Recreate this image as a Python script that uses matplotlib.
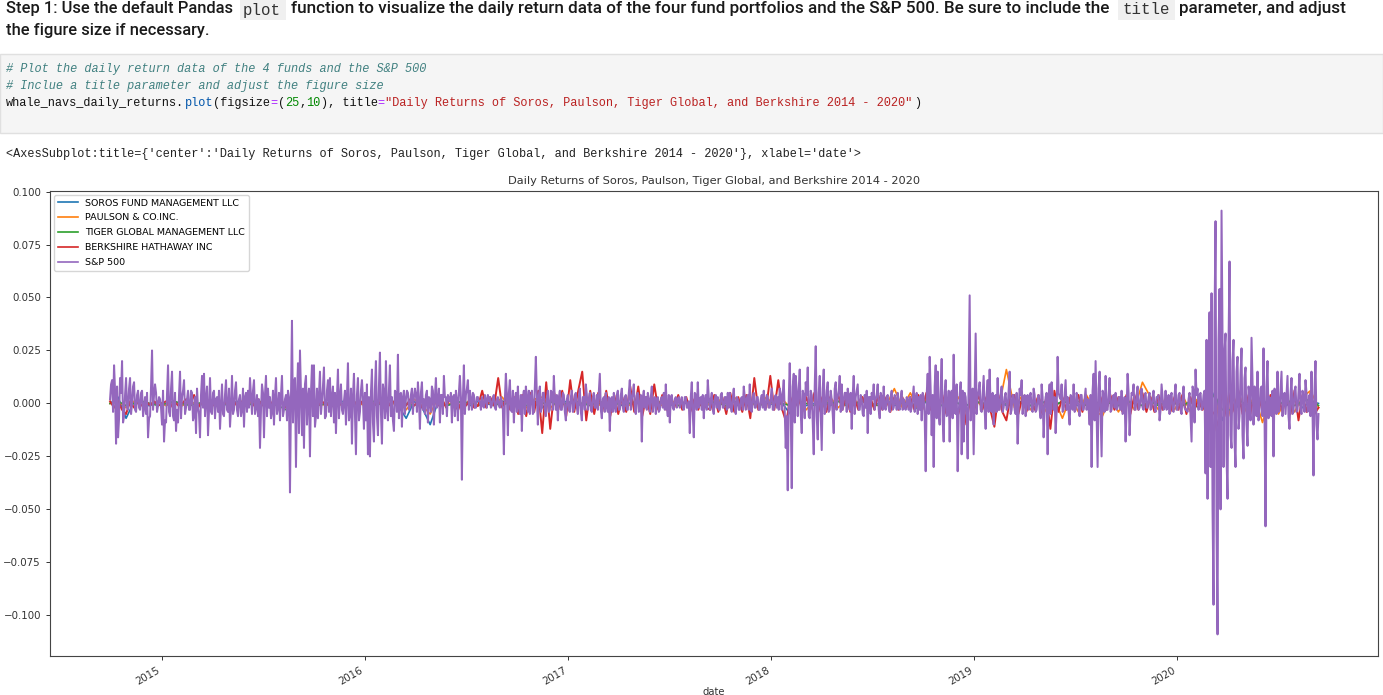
import matplotlib
matplotlib.use("Agg")
import matplotlib.pyplot as plt
import matplotlib.dates as mdates
from matplotlib.patches import Rectangle
import numpy as np
import pandas as pd

W, H = 1383, 695

# all returns in thousandths left to right
sp500 = [
    2, 11, 18, -19, -16, 12, 20, -6, 12, -3,
    12, 0, 10, -4, 6, -3, 6, -2, -5, -16,
    -6, 25, 4, 5, -1, 2, -10, -18, -9, 18,
    -6, 15, -8, -13, -9, 15, 3, 11, -2, 6,
    -3, 5, -6, -14, -2, -16, 13, 14, 2, -15,
    12, -5, 6, 2, -4, -12, 9, -6, 11, -4,
    -11, 13, -3, 10, -6, 4, -3, -11, 5, 6,
    12, -5, 11, -2, -6, -21, 9, -16, 13, 7,
    3, -4, -10, 12, -2, -8, 13, -3, 4, 6,
    -42, 39, 10, -30, 19, 25, -15, -21, 13, 3,
    -25, 18, 18, -6, -7, 15, 1, 17, -6, 11,
    12, 3, -9, -14, 16, 3, -3, 1, -10, 19,
    -5, -19, 14, -24, 12, -4, 11, -12, -8, -24,
    -25, 16, -18, 20, -15, 24, -19, 5, 20, -8,
    18, 3, -13, 5, 23, 4, -11, 6, 2, 5,
    -2, 7, 3, 4, 10, -12, 10, 2, 4, -9,
    2, 8, -10, 12, 1, -9, 4, 13, 3, 4,
    1, -9, 4, 6, -8, 13, -36, 18, 4, 11,
    6, -3, 4, -2, 3, 1, 3, -2, 2, 4,
    3, -1, 4, -3, 3, -2, 1, -24, 14, -15,
    11, -4, -9, 5, 8, -5, -13, 6, 8, -4,
    -5, 6, -4, 22, -10, 8, -2, 5, -6, 6,
    -3, 5, 13, -3, -8, 6, -3, 4, -8, 4,
    -4, 6, -3, 5, -5, 7, -8, 3, 9, -3,
    5, -4, 5, -2, -3, 14, -7, 3, 5, -4,
    -13, 3, 5, -4, 6, -3, 7, -4, 4, -3,
    11, 2, 9, -5, 5, -3, -18, 6, 3, 5,
    -4, 8, 2, -5, 3, -3, 3, 5, 9, -6,
    -9, 4, -3, 3, 2, -2, 3, -3, 3, -2,
    -14, 10, -16, 4, 10, 2, -3, -7, 4, 11,
    -3, 5, -5, 4, 3, -3, 5, -2, 3, 5,
    5, -4, 7, -5, 2, -3, 3, 8, -3, 4,
    9, -4, 5, -2, 3, -3, 4, 6, -3, 3,
    -2, 7, -3, 4, 3, 7, -3, 11, -21, -41,
    19, -40, 14, 13, -6, 16, -14, 4, 10, 17,
    -7, 4, -24, 27, -17, 13, -22, 16, -3, 10,
    -3, 2, -14, 10, 3, 13, 9, 1, 5, 7,
    -3, -12, 13, 3, 9, -3, 2, -6, -2, -14,
    3, 5, 9, 2, 9, -7, 3, 8, -3, 4,
    -4, 6, -2, 2, 5, -3, 6, 2, -3, 1,
    3, -2, 8, 2, -5, -3, -8, 3, -32, 14,
    22, -15, -30, 18, 15, -10, 21, -18, 11, -5,
    -18, 6, 23, -5, -32, 4, -24, -18, 3, -26,
    51, 5, -24, 33, 3, 10, -4, 13, -12, 11,
    16, -4, -10, 4, 12, -3, 8, -2, 5, -2,
    15, -3, 4, -5, -19, 7, 11, 2, -6, 4,
    3, -3, 7, -4, 2, -3, 9, -16, 3, -24,
    9, 10, -3, -14, 22, 3, 9, -3, 11, 3,
    -10, 3, 9, -3, 2, -6, 4, -3, 7, 2,
    -10, -30, 14, 20, -30, 15, -25, 4, 13, -3,
    12, -3, 4, 5, -2, 3, 6, -4, -18, 14,
    -15, 5, 9, -3, 8, -2, 7, -3, 5, -2,
    5, -2, 6, -4, 3, -8, 9, -3, 6, -2,
    -5, 5, -4, 9, -3, 5, -5, 8, -3, -4,
    5, -18, 6, 16, 7, 4, -3, 4, -33, -45,
    43, 52, -95, 86, -109, 54, 91, -30, 33, -45,
    67, -21, 30, -30, 22, -6, 26, -26, 17, -20,
    4, 31, -10, 6, 15, -3, 8, 26, -58, 20,
    3, -6, -25, 4, 15, -3, 15, 3, -5, 13,
    -12, 12, -4, 8, -3, 14, -5, 3, 11, -4,
    4, 15, -34, 20, -17,
]

# the smaller S&P strokes that sit between the ones above
sp500_between = [
    9, -4, 6, 8, -7, 5, -9, 4, -2, 7,
    -5, 8, -3, 4, -2, 5, -6, 3, 5, -7,
    8, -3, 9, -4, 3, -2, 6, -8, 5, -4,
    7, -6, 5, -3, 4, -7, 6, -5, 2, -3,
    6, -8, 3, 7, -5, 4, -2, -6, 8, -3,
    -4, 5, -7, 3, 6, -2, -5, 4, -3, 7,
    -2, -5, 6, -3, 2, -6, 7, 3, -4, -2,
    3, 6, -5, 4, 2, -3, 5, 4, -6, -2,
    -7, 6, 3, -5, 5, 4, -6, 2, -8, 3,
    2, -9, 12, 3, -14, 6, 7, 9, -10, 7,
    5, -6, -11, 7, 4, -5, 8, -7, 6, -4,
    -6, 8, 5, 3, -7, 9, -5, 6, 3, -8,
    7, 3, -6, 4, -8, 6, 2, 5, 9, 3,
    5, -9, 7, -6, 8, -4, 9, -7, -3, 6,
    -6, -8, 6, -4, -7, 5, 3, -5, 6, -3,
    4, -5, 7, -4, 2, 5, -3, -5, 6, 3,
    -4, 6, 3, -2, 7, 4, -5, 3, -6, 2,
    5, 3, -6, 2, 5, 3, 2, -5, 7, -3,
    2, 5, -2, 3, 1, -3, -1, 4, -2, 1,
    -2, 3, -2, 2, -1, 3, -3, 2, 4, 5,
    -3, 6, 2, -4, -2, 4, 3, -5, 3, 6,
    3, -5, 8, 3, 4, -4, 5, -3, 2, -4,
    6, -3, 2, 4, 3, -3, 5, -4, 2, -3,
    3, -4, 4, -2, 3, -4, 3, -3, 4, 2,
    -3, 3, -2, 4, 6, -3, 2, -4, -2, 3,
    2, -4, -2, 4, -3, 4, -2, 3, -3, 5,
    -3, 5, -3, 4, -4, 4, 3, -2, -3, 2,
    3, -4, 3, 2, -4, 2, -2, -3, -2, 4,
    3, -2, 2, -2, 3, 1, -2, 3, -2, 1,
    3, -5, 5, -3, -2, 3, 4, 2, -3, 3,
    2, -3, 2, -2, -3, 4, -2, 3, -3, -2,
    -2, 3, -2, 3, -3, 2, -3, 3, 2, -3,
    -3, 3, -2, 3, -3, 2, -2, -3, 4, -2,
    3, -3, 3, -2, -3, 4, 5, -4, -6, 2,
    -4, 8, -9, 5, 7, -5, 6, -7, 4, -6,
    6, -9, 8, -6, 5, -5, 7, -5, 6, -4,
    6, -5, 7, -3, 6, -4, -3, 5, -4, 3,
    5, 4, -5, 6, -3, 4, -5, 4, 6, 3,
    -5, 2, -3, 4, -3, 5, -3, -2, 3, -2,
    3, -3, 4, -3, -2, 3, -3, -2, 3, -3,
    -4, 3, -4, 5, 3, 4, 5, -6, 4, -5,
    6, 4, 8, -7, -5, 7, -8, 5, -6, 6,
    4, -7, -4, 9, -5, 10, 6, 5, -6, 12,
    -8, 7, 5, -5, 6, -3, 5, -3, 4, -4,
    -3, 5, 3, -4, -3, 4, -4, 3, -3, 6,
    -5, 4, -3, 5, -3, 4, -5, 4, 3, -3,
    5, -4, 4, -3, 4, -7, 3, -3, 5, 3,
    -5, 4, 3, -4, 5, 2, -4, 4, -3, -4,
    4, -3, -4, 5, -3, 4, -3, 2, -3, -2,
    4, 6, -8, -6, 7, -5, 6, -4, -3, 4,
    -4, 3, -2, -3, 3, -3, -5, 3, -3, 5,
    -3, 4, -3, 4, -3, 3, -2, 4, -2, 3,
    -3, 3, -2, 3, 4, -3, 3, -2, -3, 4,
    3, -3, 4, -3, 4, -3, 3, -2, -3, 2,
    -6, 8, -9, 4, -3, 5, -2, 6, 30, 22,
    -30, -50, 40, -60, 30, -50, 30, 25, -25, 28,
    -15, 20, -18, 15, -12, 14, -15, 12, -10, 8,
    -8, 10, 8, -6, -8, 7, -6, -5, 8, -7,
    -5, 6, 7, -5, -4, 6, -6, 5, 4, -6,
    4, -5, 6, -4, 5, -3, 6, -4, 5, -3,
    -6, -3, 6, -10, -5,
]

berkshire = [
    1, -2, 1, -3, -5, 1, -2, 1, -1, 1,
    -1, 1, -1, 0, 1, -2, 1, -1, 0, 2,
    -1, 4, -2, 1, -1, 2, -1, 2, -2, 1,
    -1, 1, -2, 1, -1, 2, -1, 2, -1, 1,
    -1, 2, -2, 1, -2, 1, -1, 1, -1, 2,
    -1, 1, -1, 1, -1, 1, -2, 1, -1, 1,
    -1, 1, -2, 1, -1, 2, -1, 1, -1, 2,
    -1, 1, -2, 1, -1, 2, -1, 1, -2, 1,
    -2, 2, -1, 2, -2, 3, -1, -3, 2, -1,
    2, -2, -1, 6, -2, 3, -1, 12, -2, 3,
    -3, 3, -5, 4, -6, 5, -4, 6, -14, 10,
    -12, 5, -3, 6, -6, 11, -4, 6, 15, -8,
    6, -5, 5, -4, 6, -6, 4, -5, 3, -4,
    8, -4, 8, -6, 3, -5, 9, -3, 4, -3,
    3, -2, 4, -3, 3, -4, 2, -3, 3, -2,
    -3, 4, -4, 3, -5, 5, -4, 3, -4, 4,
    -7, 12, -3, 2, -2, 13, -3, 11, -3, -9,
    3, -3, 4, -4, 3, -3, 5, -4, 3, -4,
    3, -3, 4, -3, 3, -4, 3, -3, 3, -2,
    3, -3, 4, -3, 3, -4, 3, -3, 3, -2,
    3, -3, 4, -3, 5, -3, 3, -4, 4, -5,
    3, -4, -5, 3, -10, 3, -3, 4, -3, 3,
    -3, -11, 4, -4, -8, 3, 4, -5, 3, -4,
    3, -3, 4, -5, 3, -12, 6, -4, 3, -3,
    3, -3, 4, -4, 3, -7, 4, -4, 3, -3,
    4, -3, 3, -4, 4, -5, 4, -3, 5, -4,
    3, -4, 4, -3, 3, -4, 3, -3, 4, -5,
    3, -3, 2, -3, 4, -3, -5, -11, 8, -6,
    5, -4, 6, -5, 4, -5, 6, -4, 5, -5,
    4, -5, 3, -4, 4, -5, 6, -8, 4, -4,
    5, -5, -2,
]

soros = [
    0, 3, -7, 1, -1, -1, 1, -1, 1, -1,
    1, -1, 0, 1, -1, 0, 1, -1, 1, 0,
    -1, 1, -1, 0, 1, -1, 1, 0, -1, 1,
    -1, 1, 0, -1, 1, 2, -1, -7, 1, -2,
    -10, 1, -1, 0, 1, -1, 1, 0, -1, 1,
    1, -1, 1, 0, -2, 1, -1, 1, 0, -1,
    1, 0, -1, 1, -1, 0, 1, -1, 1, 0,
    -1, 1, 0, -1, 1, -1, 1, 0, -2, 1,
    0, -1, 1, -1, 0, -5, 1, -1, 0, 1,
    -1, 1, 0, -1, 1, -1, 0, 1, -1, 0,
    1, -3, 1, 0, -1, 1, 0, -1, 1, 0,
    -1, 1, -1, 0, 1, -1, 0, 1, -1, 1,
    0, -1, 1, -1, 0, 1, -1, 1, 0, -1,
    1, 0, -1, 1, -1, 0, 2, -4, 5, -8,
    4, -2, 1, -1, 2, -2, 1, -1, 2, -2,
    1, 0,
]

paulson = [
    0, 1, -2, 1, -1, 0, 1, -1, 1, -1,
    1, -1, 1, 0, -1, 1, 0, 2, -1, 1,
    -1, 1, 0, 2, -1, 1, 0, -1, 1, -1,
    1, 0, -1, 1, 2, -1, 1, -3, 2, -1,
    -5, 3, -1, 1, -2, 2, -1, 1, -1, 3,
    -2, 1, -2, 2, 3, -2, 1, -1, 2, -1,
    2, -1, 1, -1, 2, -1, 3, -1, 1, -1,
    2, -1, 1, -1, 2, -1, 2, -2, 3, -1,
    1, -2, 3, -1, 2, -2, 1, -3, 2, -2,
    3, -2, 2, -1, 3, -2, 2, -1, 7, -2,
    5, -3, 2, -2, 3, -4, 3, -4, 3, -2,
    3, -3, 16, -2, 4, -3, 3, -4, 2, -7,
    3, -4, 4, -3, -6, 3, -4, 3, -3, 10,
    3, -3, 3, -3, 4, -4, 3, -5, -13, 13,
    -6, 5, -4, 4, -9, 3, -5, 3, -4, 3,
    6, -2,
]

tiger = [
    0, 1, -1, 0, 1, 0, -1, 0, 1, 0,
    -1, 0, 1, 0, -1, 1, 0, -1, 0, 1,
    0, -1, -3, 2, 0, 3, -1, 0, 1, 0,
    -1, 1, 0, 1, -1, 0, 1, 0, -1, 1,
    0, 1, -1, 0, 1, 0, -1, 1, 0, -1,
    1, 0, -1, 1, 0, 1, -1, 0, 1, 0,
    -1, 1, 0, -1, 1, 0, 1, -1, 0, 1,
    0, -1, 1, 0, -1, 1, 0, -1, 1, 0,
    1, -1, 0, 1, 0, -1, 1, 0, -1, 1,
    0, 1, -1, 0, 1, 0, -1, 1, 0, 1,
    -1, 0, 1, 0, -1, 1, 0, -1, 1, 0,
    1, -1, 0, 1, 0, -1, 1, 0, -1, 1,
    0, 1, -1, 0, 1, 0, -1, 1, 0, -1,
    1, -1, 1, 0, -1, 1, -2, 1, 4, -3,
    -3, 2, -1, 1, -1, 2, -1, 2, -1, 1,
    2, -1,
]

# one S&P list, alternating the big strokes and the ones between
sp500_all = np.empty(len(sp500) + len(sp500_between))
sp500_all[0::2] = sp500
sp500_all[1::2] = sp500_between

series_names = ["SOROS FUND MANAGEMENT LLC", "PAULSON & CO.INC.",
                "TIGER GLOBAL MANAGEMENT LLC", "BERKSHIRE HATHAWAY INC", "S&P 500"]
series_values = [soros, paulson, tiger, berkshire, sp500_all]
series_widths = [1.2, 1.2, 1.2, 1.4, 1.45]
years = [2015, 2016, 2017, 2018, 2019, 2020]
yticks = [-0.100, -0.075, -0.050, -0.025, 0.000, 0.025, 0.050, 0.075, 0.100]

chart_title = "Daily Returns of Soros, Paulson, Tiger Global, and Berkshire 2014 - 2020"
step_text = [
    "Step 1: Use the default Pandas",
    "function to visualize the daily return data of the four fund portfolios and the S&P 500. Be sure to include the",
    "parameter, and adjust",
    "the figure size if necessary.",
]
comment_lines = ["# Plot the daily return data of the 4 funds and the S&P 500",
                 "# Inclue a title parameter and adjust the figure size"]
call_pieces = [("whale_navs_daily_returns.", "#111111"), ("plot", "#0055aa"), ("(figsize", "#111111"),
               ("=", "#aa22ff"), ("(", "#111111"), ("25", "#008800"), (",", "#111111"), ("10", "#008800"),
               ("), title", "#111111"), ("=", "#aa22ff"),
               ('"Daily Returns of Soros, Paulson, Tiger Global, and Berkshire 2014 - 2020"', "#ba2121"),
               (")", "#111111")]
output_line = "<AxesSubplot:title={'center':'Daily Returns of Soros, Paulson, Tiger Global, and Berkshire 2014 - 2020'}, xlabel='date'>"

fig = plt.figure(figsize=(W / 100, H / 100), dpi=100)


def px(x, y):
    return x / W, 1 - y / H


def box(x0, y0, x1, y1, face, edge="none"):
    fig.patches.append(Rectangle(px(x0, y1), (x1 - x0) / W, (y1 - y0) / H, transform=fig.transFigure,
                                 facecolor=face, edgecolor=edge, linewidth=1))


def say(x, y, s, **kw):
    fig.text(*px(x, y), s, va="center", **kw)


body = dict(family="Roboto", color="#1a1a1a", weight=500)
code = dict(family="Liberation Mono", fontsize=11.3, color="#333333")
mono = dict(family="Liberation Mono", fontsize=8.58)
char_w = 7.15

box(240, 0, 286, 20, "#f0f0f0")
box(1118, 0, 1175, 20, "#f0f0f0")
say(6, 9, step_text[0], fontsize=11.9, **body)
say(243, 10, "plot", **code)
say(291, 9, step_text[1], fontsize=12.35, **body)
say(1122, 10, "title", **code)
say(1179, 9, step_text[2], fontsize=12.3, **body)
say(6, 30, step_text[3], fontsize=11.9, **body)

box(0, 54, W, 133, "#f5f5f5", "#e0e0e0")
say(6, 69, comment_lines[0], style="italic", color="#408080", **mono)
say(6, 86, comment_lines[1], style="italic", color="#408080", **mono)
cx = 6
for piece, colour in call_pieces:
    say(cx, 103, piece, color=colour, **mono)
    cx += len(piece) * char_w
say(6, 154, output_line, color="#222222", **mono)

ax = fig.add_axes([50 / W, 1 - 656 / H, (1378 - 50) / W, (656 - 190.5) / H])

for name, values, lw in zip(series_names, series_values, series_widths):
    dates = pd.date_range("2014-09-30", "2020-09-11", periods=len(values))
    ax.plot(dates, np.array(values) / 1000, linewidth=lw, label=name)

ax.set_xlim(pd.Timestamp("2014-06-14"), pd.Timestamp("2020-12-27"))
ax.set_ylim(-0.1192, 0.1005)
ax.set_yticks(yticks)
ax.set_xticks([pd.Timestamp(f"{y}-01-01") for y in years])
ax.xaxis.set_major_formatter(mdates.DateFormatter("%Y"))
ax.tick_params(labelsize=7.4, length=3, width=0.7, colors="#333333")
plt.setp(ax.get_xticklabels(), rotation=30, ha="right")
for side in ax.spines.values():
    side.set_linewidth(0.8)
    side.set_color("#444444")
ax.set_title(chart_title, fontsize=8.2, pad=5, color="#333333")
ax.set_xlabel("date", fontsize=7.2, labelpad=0, color="#333333")
leg = ax.legend(loc="upper left", fontsize=6.8, borderaxespad=0.45, labelspacing=0.62, handlelength=2.1)
for line in leg.get_lines():
    line.set_linewidth(1.2)

fig.savefig("out.png", dpi=100)
